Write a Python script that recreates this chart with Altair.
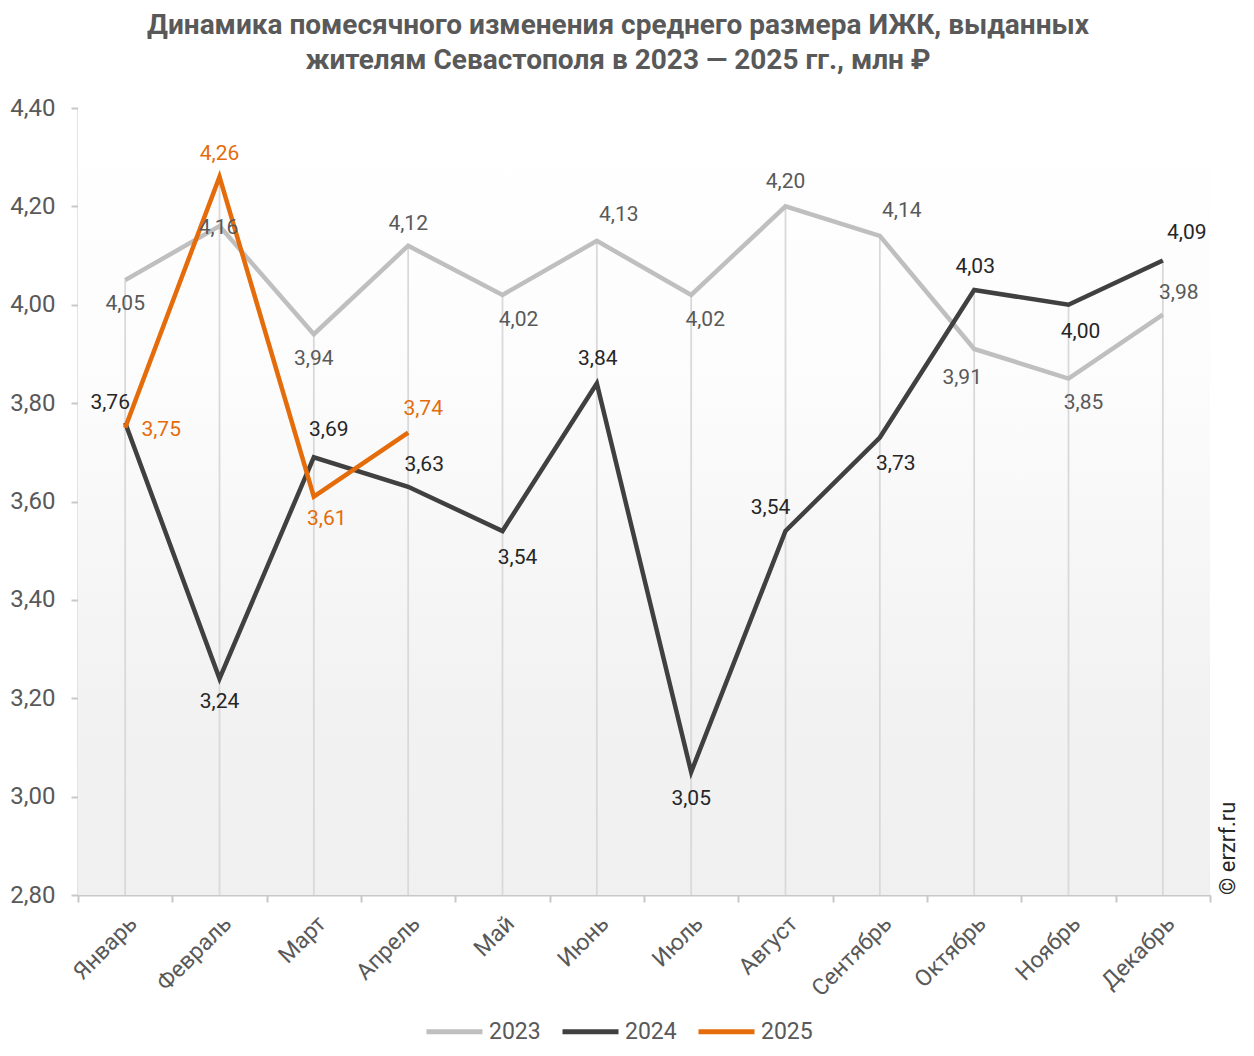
import altair as alt
import pandas as pd

months = ["Январь", "Февраль", "Март", "Апрель", "Май", "Июнь", "Июль",
          "Август", "Сентябрь", "Октябрь", "Ноябрь", "Декабрь"]
years = ["2023", "2024", "2025"]
v2023 = [4.05, 4.16, 3.94, 4.12, 4.02, 4.13, 4.02, 4.20, 4.14, 3.91, 3.85, 3.98]
v2024 = [3.76, 3.24, 3.69, 3.63, 3.54, 3.84, 3.05, 3.54, 3.73, 4.03, 4.00, 4.09]
v2025 = [3.75, 4.26, 3.61, 3.74]
y_ticks = [2.8, 3.0, 3.2, 3.4, 3.6, 3.8, 4.0, 4.2, 4.4]

title_lines = ["Динамика помесячного изменения среднего размера ИЖК, выданных",
               "жителям Севастополя  в 2023  — 2025 гг., млн ₽"]
watermark = "© erzrf.ru"

# label placement offsets in pixels (dx, dy) relative to each point
off2023 = [(0, 24), (-1, 2), (0, 25), (0, -22), (16, 25), (22, -26), (14, 25),
           (0, -24), (22, -25), (-12, 29), (15, 24), (16, -22)]
off2024 = [(-15, -20), (0, 23), (15, -27), (16, -22), (15, 27), (1, -24), (0, 27),
           (-15, -23), (16, 26), (1, -23), (12, 27), (24, -27)]
off2025 = [(36, 2), (0, -23), (13, 22), (15, -24)]

line_colors = ["#bfbfbf", "#404040", "#e46c0a"]
text_colors = {"2023": "#595959", "2024": "#262626", "2025": "#e46c0a"}

rows = []
for yr, vals, offs in [("2023", v2023, off2023), ("2024", v2024, off2024), ("2025", v2025, off2025)]:
    for m, v, (dx, dy) in zip(months, vals, offs):
        rows.append({"month": m, "year": yr, "value": v,
                     "label": f"{v:.2f}".replace(".", ","),
                     "dx": dx, "dy": dy, "tcolor": text_colors[yr]})
df = pd.DataFrame(rows)

W, H = 1132, 787
FONT = "Roboto"

x_enc = alt.X("month:N", sort=months,
              scale=alt.Scale(type="band", paddingInner=0, paddingOuter=0),
              axis=alt.Axis(title=None, tickBand="extent", labelAngle=-45,
                            labelFontSize=23, labelColor="#595959", labelFont=FONT,
                            domainColor="#c8c8c8", domainWidth=2,
                            tickColor="#c8c8c8", tickWidth=2, tickSize=7,
                            labelPadding=10, grid=False))
y_scale = alt.Scale(domain=[2.8, 4.4], nice=False, zero=False)
y_axis = alt.Axis(title=None, values=y_ticks, labelExpr="replace(format(datum.value, '.2f'), '.', ',')",
                  labelFontSize=24, labelColor="#595959", labelFont=FONT,
                  domainColor="#c8c8c8", domainWidth=2, tickColor="#c8c8c8",
                  tickWidth=2, tickSize=7, labelPadding=16, grid=False)

base = alt.Chart(df)

bg = alt.Chart(pd.DataFrame({"a": [0]})).mark_rect(
    fill=alt.Gradient(gradient="linear", x1=0, y1=0, x2=0, y2=1,
                      stops=[alt.GradientStop(color="#ffffff", offset=0),
                             alt.GradientStop(color="#fcfcfc", offset=0.35),
                             alt.GradientStop(color="#f2f2f2", offset=0.75),
                             alt.GradientStop(color="#f0f0f0", offset=1)])
).encode(x=alt.value(0), x2=alt.value(W), y=alt.value(0), y2=alt.value(H))

drops = base.transform_aggregate(
    vmax="max(value)", groupby=["month"]
).mark_rule(color="#d9d9d9", strokeWidth=1.8).encode(
    x=x_enc,
    y=alt.Y("vmax:Q", scale=y_scale, axis=y_axis),
    y2=alt.datum(2.8),
)

lines = base.mark_line(strokeWidth=4.5).encode(
    x=x_enc,
    y=alt.Y("value:Q", scale=y_scale, axis=y_axis),
    color=alt.Color("year:N", scale=alt.Scale(domain=years, range=line_colors),
                    legend=alt.Legend(title=None, orient="none", legendX=346, legendY=893,
                                      direction="horizontal", symbolType="stroke",
                                      symbolSize=3136, symbolStrokeWidth=5,
                                      labelFontSize=23, labelColor="#595959", labelFont=FONT,
                                      labelOffset=4, columnPadding=11)),
    order=alt.Order("year:N"),
)

labels = base.mark_text(fontSize=21, font=FONT, align="center", baseline="middle",
                        dx=alt.expr("datum.dx"), dy=alt.expr("datum.dy")).encode(
    x=x_enc,
    y=alt.Y("value:Q", scale=y_scale, axis=y_axis),
    text="label:N",
    color=alt.Color("tcolor:N", scale=None, legend=None),
)

wm = alt.Chart(pd.DataFrame({"a": [0]})).mark_text(
    angle=270, align="left", baseline="middle", fontSize=22, font=FONT, color="#262626"
).encode(x=alt.value(W + 18), y=alt.value(H), text=alt.value(watermark))

chart = alt.layer(bg, drops, lines, labels, wm).properties(
    width=W, height=H,
    autosize=alt.AutoSizeParams(type="none"),
    padding={"left": 70, "top": 100, "right": 30, "bottom": 152},
    title=alt.TitleParams(text=title_lines, font=FONT, fontSize=28, fontWeight="bold",
                          color="#595959", anchor="middle", dx=-26, offset=21,
                          lineHeight=35),
).configure_view(stroke=None)

chart.save("out.html", embed_options={"renderer": "svg", "actions": False})
